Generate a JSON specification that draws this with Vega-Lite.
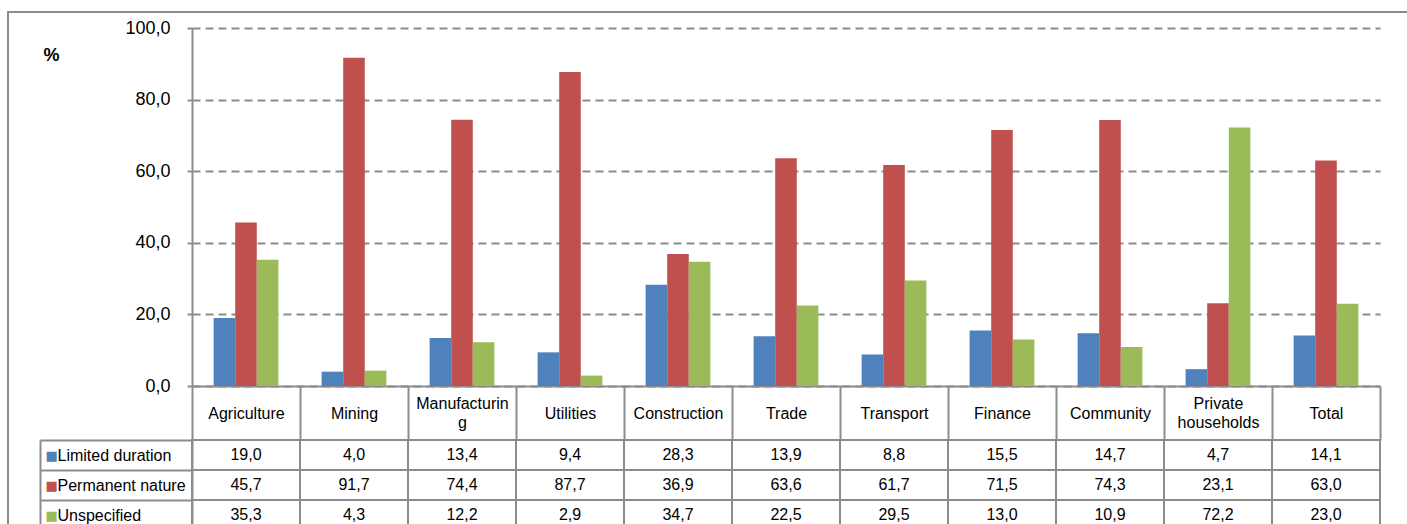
{
  "$schema": "https://vega.github.io/schema/vega-lite/v6.json",
  "background": "white",
  "autosize": {"type": "none"},
  "padding": {"left": 8, "top": 12, "right": -2, "bottom": -2},
  "width": 1401,
  "height": 514,
  "config": {
    "locale": {"number": {"decimal": ",", "thousands": ".", "grouping": [3], "currency": ["", ""]}},
    "font": "Liberation Sans",
    "view": {"stroke": "#8c8c8c", "strokeWidth": 2}
  },
  "data": {
    "values": [
      {"category": "Agriculture", "series": "Limited duration", "value": 19.0},
      {"category": "Mining", "series": "Limited duration", "value": 4.0},
      {"category": "Manufacturing", "series": "Limited duration", "value": 13.4},
      {"category": "Utilities", "series": "Limited duration", "value": 9.4},
      {"category": "Construction", "series": "Limited duration", "value": 28.3},
      {"category": "Trade", "series": "Limited duration", "value": 13.9},
      {"category": "Transport", "series": "Limited duration", "value": 8.8},
      {"category": "Finance", "series": "Limited duration", "value": 15.5},
      {"category": "Community", "series": "Limited duration", "value": 14.7},
      {"category": "Private households", "series": "Limited duration", "value": 4.7},
      {"category": "Total", "series": "Limited duration", "value": 14.1},
      {"category": "Agriculture", "series": "Permanent nature", "value": 45.7},
      {"category": "Mining", "series": "Permanent nature", "value": 91.7},
      {"category": "Manufacturing", "series": "Permanent nature", "value": 74.4},
      {"category": "Utilities", "series": "Permanent nature", "value": 87.7},
      {"category": "Construction", "series": "Permanent nature", "value": 36.9},
      {"category": "Trade", "series": "Permanent nature", "value": 63.6},
      {"category": "Transport", "series": "Permanent nature", "value": 61.7},
      {"category": "Finance", "series": "Permanent nature", "value": 71.5},
      {"category": "Community", "series": "Permanent nature", "value": 74.3},
      {"category": "Private households", "series": "Permanent nature", "value": 23.1},
      {"category": "Total", "series": "Permanent nature", "value": 63.0},
      {"category": "Agriculture", "series": "Unspecified", "value": 35.3},
      {"category": "Mining", "series": "Unspecified", "value": 4.3},
      {"category": "Manufacturing", "series": "Unspecified", "value": 12.2},
      {"category": "Utilities", "series": "Unspecified", "value": 2.9},
      {"category": "Construction", "series": "Unspecified", "value": 34.7},
      {"category": "Trade", "series": "Unspecified", "value": 22.5},
      {"category": "Transport", "series": "Unspecified", "value": 29.5},
      {"category": "Finance", "series": "Unspecified", "value": 13.0},
      {"category": "Community", "series": "Unspecified", "value": 10.9},
      {"category": "Private households", "series": "Unspecified", "value": 72.2},
      {"category": "Total", "series": "Unspecified", "value": 23.0}
    ]
  },
  "encoding": {
    "x": {
      "field": "category", "type": "nominal", "sort": null,
      "scale": {"range": [184, 1372], "paddingInner": 0, "paddingOuter": 0},
      "axis": {
        "orient": "bottom", "offset": -140,
        "title": null, "labelAngle": 0, "tickBand": "extent", "tickSize": 54,
        "tickColor": "#8c8c8c", "tickWidth": 2, "domainColor": "#8c8c8c", "domainWidth": 2,
        "labelPadding": {"condition": {"test": "datum.value == 'Manufacturing' || datum.value == 'Private households'", "value": -37}, "value": -27},
        "labelBaseline": "middle", "labelFontSize": 16, "labelColor": "black",
        "labelLineHeight": 19, "labelLimit": 200,
        "labelExpr": "datum.value == 'Manufacturing' ? ['Manufacturin', 'g'] : datum.value == 'Private households' ? ['Private', 'households'] : datum.label"
      }
    }
  },
  "layer": [
    {
      "mark": {"type": "bar"},
      "encoding": {
        "xOffset": {"field": "series", "type": "nominal", "sort": null, "scale": {"paddingInner": 0, "paddingOuter": 1.16}},
        "y": {
          "field": "value", "type": "quantitative",
          "scale": {"domain": [0, 100], "range": [374, 16]},
          "axis": {
            "orient": "left", "offset": -184,
            "values": [0, 20, 40, 60, 80, 100], "format": ".1f",
            "grid": true, "gridDash": [8, 5], "gridColor": "#8c8c8c", "gridWidth": 2,
            "domainColor": "#8c8c8c", "domainWidth": 2, "tickColor": "#8c8c8c", "tickWidth": 2, "tickSize": 5,
            "labelPadding": 17, "labelFontSize": 18, "labelColor": "black",
            "title": "%", "titleAngle": 0, "titleFontSize": 18, "titleFontWeight": "bold", "titleColor": "black",
            "titleX": -149, "titleY": 43, "titleAlign": "left", "titleBaseline": "middle"
          }
        },
        "color": {
          "field": "series", "type": "nominal", "sort": null,
          "scale": {"domain": ["Limited duration", "Permanent nature", "Unspecified"], "range": ["#4F81BD", "#C0504D", "#9BBB59"]},
          "legend": null
        }
      }
    },
    {
      "mark": {"type": "rect", "fill": "white", "stroke": "#8c8c8c", "strokeWidth": 2},
      "encoding": {
        "y": {
          "field": "series", "type": "nominal", "sort": null,
          "scale": {"range": [428, 518], "paddingInner": 0, "paddingOuter": 0},
          "axis": {
            "orient": "left", "offset": -184, "title": null, "grid": false,
            "tickBand": "extent", "tickSize": 152,
            "tickColor": "#8c8c8c", "tickWidth": 2, "domainColor": "#8c8c8c", "domainWidth": 2,
            "labelAlign": "left", "labelPadding": -17, "labelBaseline": "middle",
            "labelFontSize": 16, "labelColor": "black", "labelLimit": 200
          }
        }
      }
    },
    {
      "mark": {"type": "text", "fontSize": 16, "color": "black"},
      "encoding": {
        "y": {
          "field": "series", "type": "nominal", "sort": null,
          "scale": {"range": [428, 518], "paddingInner": 0, "paddingOuter": 0},
          "axis": {
            "orient": "left", "offset": -32, "title": null, "grid": false,
            "ticks": false, "tickSize": 0,
            "domainColor": "#8c8c8c", "domainWidth": 2,
            "labelExpr": "'■'", "labelFont": "DejaVu Sans", "labelFontSize": 13,
            "labelAlign": "left", "labelPadding": -5, "labelBaseline": "middle",
            "labelColor": {
              "condition": [
                {"test": "datum.value === 'Limited duration'", "value": "#4F81BD"},
                {"test": "datum.value === 'Permanent nature'", "value": "#C0504D"}
              ],
              "value": "#9BBB59"
            }
          }
        },
        "text": {"field": "value", "type": "quantitative", "format": ".1f"}
      }
    }
  ],
  "resolve": {"scale": {"y": "independent"}, "axis": {"y": "independent"}}
}
